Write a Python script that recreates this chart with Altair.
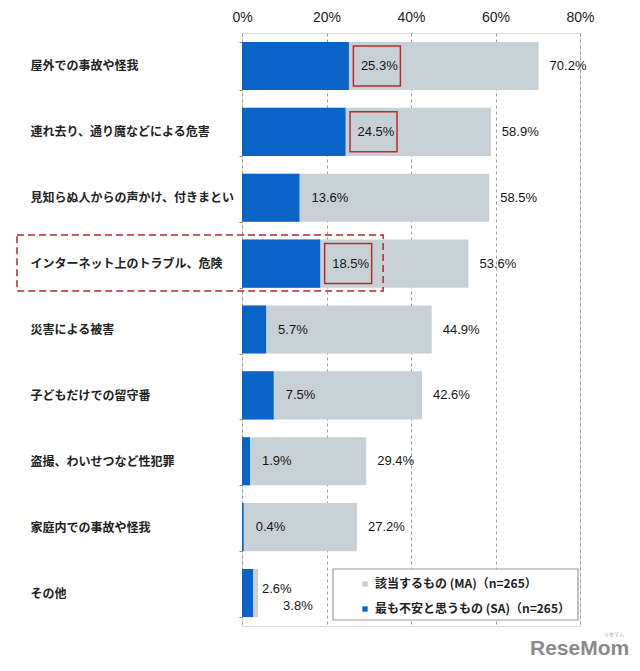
import altair as alt
import pandas as pd

# ---- data ----
categories = [
    "屋外での事故や怪我",
    "連れ去り、通り魔などによる危害",
    "見知らぬ人からの声かけ、付きまとい",
    "インターネット上のトラブル、危険",
    "災害による被害",
    "子どもだけでの留守番",
    "盗撮、わいせつなど性犯罪",
    "家庭内での事故や怪我",
    "その他",
]
ma_values = [70.2, 58.9, 58.5, 53.6, 44.9, 42.6, 29.4, 27.2, 3.8]
sa_values = [25.3, 24.5, 13.6, 18.5, 5.7, 7.5, 1.9, 0.4, 2.6]
highlighted = ["屋外での事故や怪我", "連れ去り、通り魔などによる危害", "インターネット上のトラブル、危険"]
boxed_row = ["インターネット上のトラブル、危険"]
boxed_row_right = [33.4]
series_names = ["該当するもの (MA)（n=265）", "最も不安と思うもの (SA)（n=265）"]
x_ticks = [0, 20, 40, 60, 80]
watermark = ["ReseMom"]
watermark_ruby = ["リセマム"]

LIGHT = "#c7d1d5"
BLUE = "#0a63c6"
RED = "#c0282d"
W, H = 338, 593

rows = pd.DataFrame({"category": categories, "ma": ma_values, "sa": sa_values})
rows["ma_label"] = rows["ma"].map(lambda v: f"{v:.1f}%")
rows["sa_label"] = rows["sa"].map(lambda v: f"{v:.1f}%")
long = pd.concat([
    pd.DataFrame({"category": categories, "series": series_names[0], "value": ma_values, "ord": 0}),
    pd.DataFrame({"category": categories, "series": series_names[1], "value": sa_values, "ord": 1}),
], ignore_index=True)
hl = rows[rows["category"].isin(highlighted)]
box_df = pd.DataFrame({"category": boxed_row, "right": boxed_row_right})

x_scale = alt.Scale(domain=[0, 80], nice=False, zero=True)
x_axis = alt.Axis(orient="top", values=x_ticks, labelExpr="datum.value + '%'", title=None,
                  tickSize=0, domain=False, grid=True, gridDash=[3, 3], gridColor="#9a9a9a",
                  gridWidth=1, labelFont="Liberation Sans", labelFontSize=14, labelColor="#222222",
                  labelPadding=9, labelFlush=False)
y_scale = alt.Scale(domain=categories, paddingInner=0.27, paddingOuter=0.135)
y_axis = alt.Axis(title=None, labelAlign="left", labelBaseline="middle", labelPadding=209,
                  labelLimit=320, labelFont="Noto Sans CJK JP", labelFontSize=12,
                  labelFontWeight="bold", labelColor="#222222", tickBand="extent", tickSize=3,
                  tickColor="#8c8c8c", domain=False)


def X(field):
    return alt.X(field, scale=x_scale, axis=x_axis, stack=None)


def Y():
    return alt.Y("category:N", sort=categories, scale=y_scale, axis=y_axis)


bars = alt.Chart(long).mark_bar().encode(
    x=X("value:Q"),
    y=Y(),
    color=alt.Color("series:N", scale=alt.Scale(domain=series_names, range=[LIGHT, BLUE]),
                    legend=alt.Legend(orient="none", legendX=117, legendY=545, title=None,
                                      symbolType="square", symbolSize=28, symbolStrokeWidth=0,
                                      labelFont="Noto Sans CJK JP", labelFontSize=12,
                                      labelFontWeight="bold", labelColor="#222222",
                                      labelLimit=300, rowPadding=13, padding=0)),
    order=alt.Order("ord:Q"),
)

boxes = alt.Chart(hl).mark_point(
    shape="M-1,-0.851H1V0.851H-1Z", size=47 * 47, filled=False, stroke=RED,
    strokeWidth=1.5, opacity=1, xOffset=28,
).encode(x=X("sa:Q"), y=Y())

main_rows = rows[rows["category"] != "その他"]
other_row = rows[rows["category"] == "その他"]
text_style = dict(align="left", baseline="middle", font="Liberation Sans", fontSize=13, color="#151515")

sa_text = alt.Chart(main_rows).mark_text(dx=12, **text_style).encode(x=X("sa:Q"), y=Y(), text="sa_label:N")
ma_text = alt.Chart(main_rows).mark_text(dx=11, **text_style).encode(x=X("ma:Q"), y=Y(), text="ma_label:N")
sa_other = alt.Chart(other_row).mark_text(dx=9, dy=-4, **text_style).encode(x=X("sa:Q"), y=Y(), text="sa_label:N")
ma_other = alt.Chart(other_row).mark_text(dx=25, dy=13, **text_style).encode(x=X("ma:Q"), y=Y(), text="ma_label:N")

legend_box = alt.Chart(pd.DataFrame({"k": [0]})).mark_rect(
    fill="white", stroke="#9a9a9a", strokeWidth=1.2
).encode(x=alt.value(91), x2=alt.value(336), y=alt.value(536), y2=alt.value(587))

dashed = alt.Chart(box_df).mark_rect(
    fillOpacity=0, stroke="#b3262c", strokeWidth=1.5, strokeDash=[7, 4]
).encode(x=X("right:Q"), x2=alt.value(-225), y=alt.value(202), y2=alt.value(258))

wm = alt.Chart(pd.DataFrame({"t": watermark})).mark_text(
    align="left", baseline="alphabetic", font="Liberation Sans", fontSize=21,
    fontWeight="bold", color="#8a8a8a"
).encode(x=alt.value(288), y=alt.value(622), text="t:N")

wm_ruby = alt.Chart(pd.DataFrame({"t": watermark_ruby})).mark_text(
    align="center", baseline="alphabetic", font="Noto Sans CJK JP", fontSize=5,
    color="#9a9a9a"
).encode(x=alt.value(372), y=alt.value(603), text="t:N")

chart = alt.layer(bars, boxes, sa_text, ma_text, sa_other, ma_other, legend_box, dashed, wm, wm_ruby).properties(
    width=W, height=H, autosize="none",
    padding={"left": 234, "top": 25, "right": 52, "bottom": 36},
).configure_view(stroke="#8c8c8c", strokeWidth=1.5).configure(background="white")

chart.save("out.html", embed_options={"renderer": "svg", "actions": False})
